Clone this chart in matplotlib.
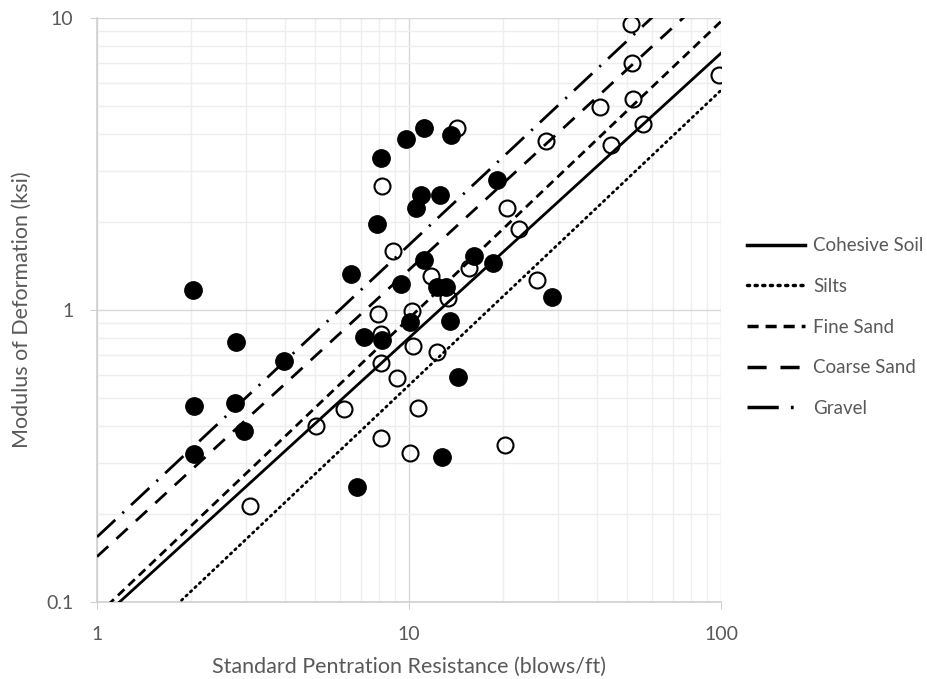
import numpy as np
import matplotlib.pyplot as plt
from matplotlib.ticker import FixedLocator, FixedFormatter, LogLocator, NullFormatter

plt.rcParams['font.family'] = ['Lato', 'DejaVu Sans']

# Puntos medidos: N (golpes/pie) y E (ksi)
N_llenos = [2.03, 2.04, 2.04, 2.79, 2.77, 2.96, 3.98, 6.52, 6.81, 7.17, 7.9, 8.13, 8.19,
            9.43, 9.78, 10.1, 10.5, 10.9, 11.2, 11.2, 12.6, 12.3, 13.1, 12.8, 13.6, 13.5,
            14.4, 16.2, 18.6, 19.1, 28.7]
E_llenos = [1.17, 0.47, 0.32, 0.78, 0.48, 0.385, 0.67, 1.33, 0.248, 0.81, 1.97, 3.32, 0.79,
            1.23, 3.85, 0.91, 2.24, 2.48, 4.2, 1.48, 2.48, 1.2, 1.2, 0.314, 3.97, 0.92,
            0.59, 1.53, 1.45, 2.79, 1.11]

N_vacios = [3.09, 5.03, 6.19, 7.96, 8.19, 8.13, 8.13, 8.13, 8.89, 9.16, 10.1, 10.2, 10.3,
            10.7, 11.8, 12.3, 13.3, 14.2, 15.6, 20.3, 20.6, 22.5, 25.7, 27.5, 40.9, 44.4,
            51.5, 51.9, 52.2, 56.2, 98.5]
E_vacios = [0.213, 0.40, 0.458, 0.97, 2.66, 0.83, 0.66, 0.365, 1.59, 0.585, 0.324, 0.99, 0.75,
            0.46, 1.31, 0.72, 1.10, 4.2, 1.39, 0.345, 2.24, 1.89, 1.27, 3.79, 4.96, 3.67,
            9.53, 7.01, 5.28, 4.34, 6.38]

# Correlaciones E = a * N^b
suelos = ['Cohesive Soil', 'Silts', 'Fine Sand', 'Coarse Sand', 'Gravel']
coef_a = [0.085, 0.054, 0.090, 0.143, 0.167]
coef_b = [0.975, 1.010, 1.017, 0.982, 1.000]
estilos = [
    dict(linestyle='-', linewidth=2.0),
    dict(linestyle=(0, (0.6, 1.6)), linewidth=2.0, dash_capstyle='round'),
    dict(linestyle=(0, (3.2, 2.0)), linewidth=2.0),
    dict(linestyle=(0, (5.5, 4.0)), linewidth=2.0),
    dict(linestyle=(0, (9.0, 3.5, 0.8, 3.5)), linewidth=2.0),
]

N_linea = np.array([1.0, 100.0])

fig = plt.figure(figsize=(9.28, 6.79), dpi=100)
ax = fig.add_axes([97 / 928, 1 - 602 / 679, (721 - 97) / 928, (602 - 18) / 679])

for nombre, a, b, st in zip(suelos, coef_a, coef_b, estilos):
    ax.plot(N_linea, a * N_linea ** b, color='black', label=nombre, zorder=3, **st)

ax.plot(N_llenos, E_llenos, 'o', color='black', markersize=12.5, zorder=4)
ax.plot(N_vacios, E_vacios, 'o', markerfacecolor='none', markeredgecolor='black',
        markeredgewidth=1.5, markersize=11.5, zorder=4)

ax.set_xscale('log')
ax.set_yscale('log')
ax.set_xlim(1, 100)
ax.set_ylim(0.1, 10)

ax.xaxis.set_major_locator(FixedLocator([1, 10, 100]))
ax.xaxis.set_major_formatter(FixedFormatter(['1', '10', '100']))
ax.yaxis.set_major_locator(FixedLocator([0.1, 1, 10]))
ax.yaxis.set_major_formatter(FixedFormatter(['0.1', '1', '10']))
ax.xaxis.set_minor_locator(LogLocator(base=10, subs=np.arange(2, 10)))
ax.yaxis.set_minor_locator(LogLocator(base=10, subs=np.arange(2, 10)))
ax.xaxis.set_minor_formatter(NullFormatter())
ax.yaxis.set_minor_formatter(NullFormatter())

ax.grid(True, which='major', color='#d9d9d9', linewidth=1.0, zorder=0)
ax.grid(True, which='minor', color='#eeeeee', linewidth=1.0, zorder=0)
ax.set_axisbelow(True)

for lado in ['top', 'right']:
    ax.spines[lado].set_visible(False)
for lado in ['left', 'bottom']:
    ax.spines[lado].set_color('#d0d0d0')
    ax.spines[lado].set_linewidth(1.2)

ax.tick_params(which='major', length=5, color='#d0d0d0', labelcolor='#595959',
               labelsize=14, pad=12)
ax.tick_params(which='minor', length=0)

ax.set_xlabel('Standard Pentration Resistance (blows/ft)', fontsize=15.5, color='#595959',
              labelpad=10)
ax.set_ylabel('Modulus of Deformation (ksi)', fontsize=15.5, color='#595959', labelpad=10)

leyenda = fig.legend(loc='center left', bbox_to_anchor=(730 / 928, 1 - 327 / 679),
                     frameon=False, fontsize=13.5, labelcolor='#595959', handlelength=3.1,
                     handletextpad=0.45, labelspacing=1.26)
for linea in leyenda.get_lines():
    linea.set_linewidth(2.5)

fig.savefig('out.png', dpi=100)
